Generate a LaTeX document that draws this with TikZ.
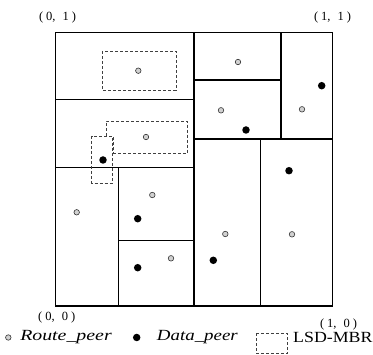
\documentclass[tikz,border=0pt]{standalone}
\usepackage{fontspec}
\setmainfont{Liberation Serif}
\newcommand{\cpair}[2]{(\hspace{3pt}#1,\hspace{7pt}#2\hspace{3pt})}
\begin{document}
\begin{tikzpicture}[x=1pt,y=-1pt,
  cell/.style={draw=black,line width=1.2pt},
  mbr/.style={draw=black!75,dashed,dash pattern=on 3pt off 2pt,line width=0.6pt},
  rpeer/.style={circle,draw=black!80,fill=black!18,line width=0.6pt,inner sep=0pt,minimum size=5.5pt},
  dpeer/.style={circle,fill=black,inner sep=0pt,minimum size=7.5pt},
  lbl/.style={font=\fontsize{12.5}{14}\selectfont,inner sep=0pt},
  leg/.style={font=\fontsize{15.5}{17}\selectfont,inner sep=0pt,anchor=west}]
\useasboundingbox (0,0) rectangle (373,355);
% grid cells
\draw[cell] (55.7,32.3) rectangle (332.7,306);
\draw[cell] (194,32.3) -- (194,306);
\draw[cell] (55.7,99.3) -- (194,99.3);
\draw[cell] (55.7,167.3) -- (194,167.3);
\draw[cell] (281,32.3) -- (281,139);
\draw[cell] (194,80) -- (281,80);
\draw[cell] (194,139) -- (332.7,139);
\draw[cell] (260.3,139) -- (260.3,306);
\draw[cell] (118.3,167.3) -- (118.3,306);
\draw[cell] (118.3,240.7) -- (194,240.7);
% LSD-MBRs
\draw[mbr] (102.3,51) rectangle (176,90);
\draw[mbr] (106,136) -- (106,121) -- (187.3,121) -- (187.3,153) -- (113.3,153) -- (113.3,136);
\draw[mbr] (91.7,136) rectangle (112.3,183);
% route peers
\node[rpeer] (r1) at (138.3,70.7) {};
\node[rpeer] (r2) at (238,62) {};
\node[rpeer] (r3) at (221,110.3) {};
\node[rpeer] (r4) at (302,109.3) {};
\node[rpeer] (r5) at (146,137) {};
\node[rpeer] (r6) at (76.7,212.3) {};
\node[rpeer] (r7) at (152.3,195) {};
\node[rpeer] (r8) at (171,258.3) {};
\node[rpeer] (r9) at (225.3,234) {};
\node[rpeer] (r10) at (292,234.3) {};
% data peers
\node[dpeer] (d1) at (321.7,85.7) {};
\node[dpeer] (d2) at (246,130) {};
\node[dpeer] (d3) at (103,160) {};
\node[dpeer] (d4) at (289,170.7) {};
\node[dpeer] (d5) at (137.7,218.7) {};
\node[dpeer] (d6) at (137.7,267.7) {};
\node[dpeer] (d7) at (213.3,260.3) {};
% corner labels
\node[lbl] (c01) at (57.5,17.5) {\cpair{0}{1}};
\node[lbl] (c11) at (332.5,17.5) {\cpair{1}{1}};
\node[lbl] (c00) at (56.7,317) {\cpair{0}{0}};
\node[lbl] (c10) at (338.5,324.5) {\cpair{1}{0}};
% legend
\node[rpeer] (lr) at (8.3,337.5) {};
\node[leg,xscale=1.28] (lrt) at (20,337.5) {\itshape Route\_peer};
\node[dpeer] (ld) at (136.7,337.5) {};
\node[leg,xscale=1.22] (ldt) at (156.7,337.5) {\itshape Data\_peer};
\draw[mbr] (256,333.3) rectangle (287.3,353.3);
\node[leg,xscale=1.15] (lmt) at (293,337.5) {LSD-MBR};
\end{tikzpicture}
\end{document}
